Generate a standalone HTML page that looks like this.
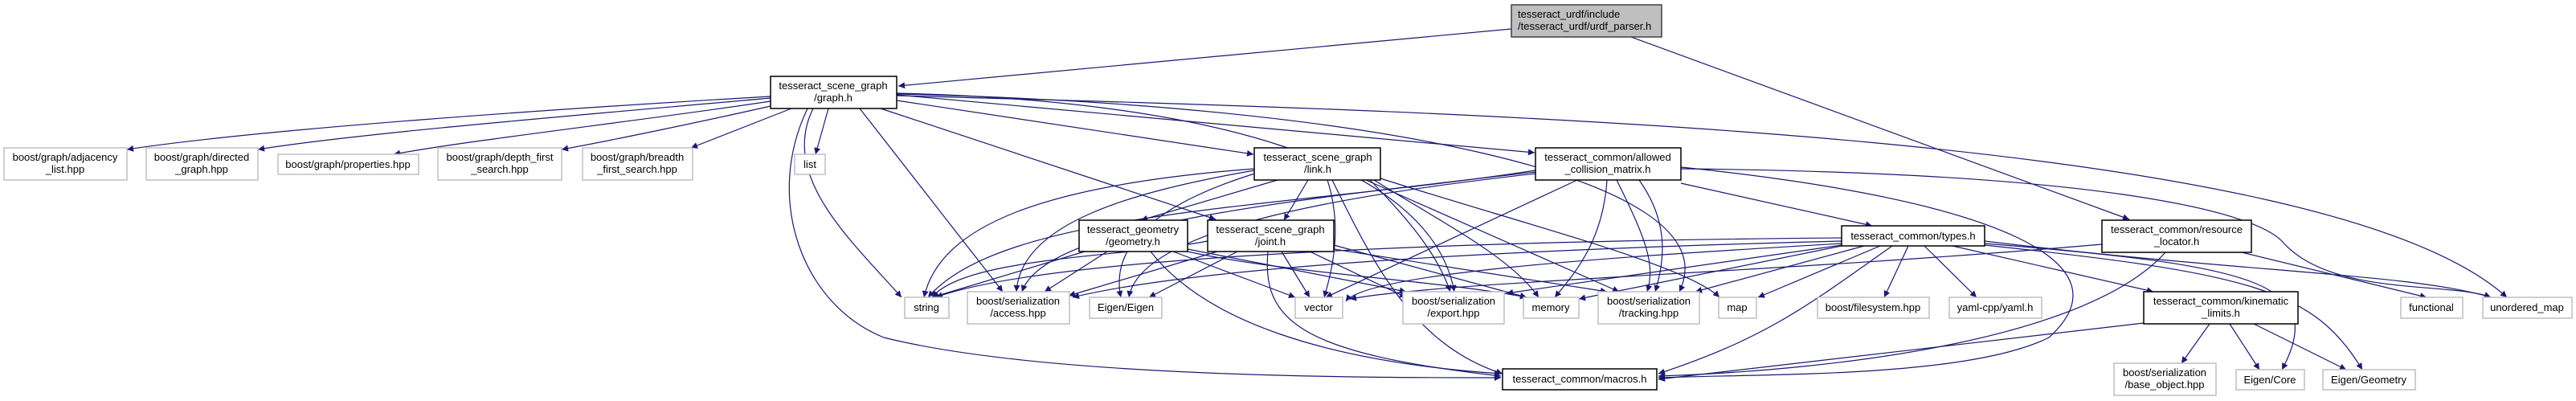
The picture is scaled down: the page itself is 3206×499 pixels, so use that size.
<!DOCTYPE html>
<html><head><meta charset="utf-8"><style>
html,body{margin:0;padding:0;background:#fff;}
svg{display:block;}
text{font-family:"Liberation Sans",Arial,sans-serif;font-size:13px;fill:#000;}
.e{fill:none;stroke:#191970;stroke-width:1.2;}
.lf{fill:#fff;stroke:#bfbfbf;stroke-width:1.5;}
.mn{fill:#fff;stroke:#000;stroke-width:1.5;}
</style></head><body>
<svg width="3206" height="499" viewBox="0 0 3206 499" xmlns="http://www.w3.org/2000/svg">
<defs><marker id="a" viewBox="0 0 10 10" refX="10" refY="5" markerWidth="10" markerHeight="8" markerUnits="userSpaceOnUse" orient="auto"><path d="M0,0 L10,5 L0,10 z" fill="#191970"/></marker></defs>
<g class="e" marker-end="url(#a)">
<path d="M1881,36 L1118,107"/>
<path d="M2030,46 L2650,273"/>
<path d="M959,120 C700,135 330,160 158,186"/>
<path d="M959,122 C760,140 450,165 321,186"/>
<path d="M959,126 C800,150 580,175 490,192"/>
<path d="M959,132 C880,150 760,175 699,186"/>
<path d="M985,135 L860,184"/>
<path d="M1031,135 L1015,192"/>
<path d="M1012,135 C970,220 1060,300 1122,370"/>
<path d="M1005,135 C950,250 1000,380 1100,420 C1300,470 1700,470 1868,470"/>
<path d="M1070,135 L1248,363"/>
<path d="M1096,135 L1513,273"/>
<path d="M1116,125 L1560,192"/>
<path d="M1116,118 L1910,190"/>
<path d="M1116,116 C1500,125 1780,200 1810,363"/>
<path d="M1116,117 C1700,130 2160,220 2090,363"/>
<path d="M1116,119 C1900,140 2900,170 3120,370"/>
<path d="M1561,210 C1300,230 1170,280 1150,370"/>
<path d="M1561,212 C1400,240 1270,280 1265,363"/>
<path d="M1565,215 C1450,250 1380,300 1395,370"/>
<path d="M1590,224 L1420,274"/>
<path d="M1628,224 L1598,274"/>
<path d="M1652,224 C1670,280 1660,330 1648,370"/>
<path d="M1658,224 C1710,330 1760,430 1870,465"/>
<path d="M1705,224 C1760,280 1790,320 1805,363"/>
<path d="M1710,224 C1800,280 1880,320 1915,370"/>
<path d="M1700,224 L2015,363"/>
<path d="M1718,222 C1900,280 2100,330 2140,370"/>
<path d="M1911,212 C1600,260 1250,260 1155,370"/>
<path d="M1911,214 C1600,250 1300,280 1272,363"/>
<path d="M1911,216 C1700,240 1420,280 1405,370"/>
<path d="M1963,224 L1650,370"/>
<path d="M2000,224 C1995,300 1960,340 1935,370"/>
<path d="M2012,224 C2050,300 2060,330 2050,363"/>
<path d="M2040,224 C2080,280 2070,330 2060,363"/>
<path d="M2092,208 C2500,250 2650,330 2550,420 C2450,470 2200,465 2064,470"/>
<path d="M2092,228 L2330,281"/>
<path d="M2092,210 C2600,215 2800,260 2840,300 C2900,370 3050,350 3100,370"/>
<path d="M1350,313 L1160,370"/>
<path d="M1378,313 L1300,363"/>
<path d="M1460,313 L1612,370"/>
<path d="M1478,310 L1750,363"/>
<path d="M1478,313 C1600,340 1800,350 1900,370"/>
<path d="M1432,313 C1500,400 1650,450 1868,465"/>
<path d="M1503,300 C1400,320 1200,320 1160,370"/>
<path d="M1515,313 L1330,368"/>
<path d="M1540,313 L1430,370"/>
<path d="M1595,313 L1630,370"/>
<path d="M1630,313 L1750,370"/>
<path d="M1660,305 L1900,370"/>
<path d="M1660,310 L2000,363"/>
<path d="M1578,313 C1570,400 1620,440 1868,468"/>
<path d="M2292,296 C1800,300 1300,320 1165,370"/>
<path d="M2292,300 C1900,310 1500,330 1335,370"/>
<path d="M2292,303 C2000,320 1700,340 1675,375"/>
<path d="M2292,305 L1875,365"/>
<path d="M2292,306 L1965,372"/>
<path d="M2320,306 L2110,363"/>
<path d="M2340,306 L2188,370"/>
<path d="M2375,306 L2345,370"/>
<path d="M2395,306 L2460,370"/>
<path d="M2430,306 L2680,363"/>
<path d="M2355,306 C2250,380 2200,420 2064,465"/>
<path d="M2470,303 C2800,330 2900,350 2840,460"/>
<path d="M2470,305 C2800,340 2880,360 2940,460"/>
<path d="M2470,300 C2800,340 3000,340 3100,370"/>
<path d="M2616,304 C2200,340 1800,350 1680,372"/>
<path d="M2790,314 L3020,370"/>
<path d="M2695,314 C2600,420 2300,460 2064,468"/>
<path d="M2668,402 L2064,472"/>
<path d="M2750,403 L2715,452"/>
<path d="M2775,403 L2812,460"/>
<path d="M2805,403 L2920,460"/>
</g>
<!-- main nodes -->
<rect x="1881" y="6" width="187" height="40" fill="#bfbfbf" stroke="#404040" stroke-width="1.5"/>
<text x="1889" y="22">tesseract_urdf/include</text><text x="1889" y="37">/tesseract_urdf/urdf_parser.h</text>
<rect class="mn" x="959" y="95" width="157" height="40"/>
<text x="1037" y="111" text-anchor="middle">tesseract_scene_graph</text><text x="1037" y="126" text-anchor="middle">/graph.h</text>
<rect class="mn" x="1561" y="184" width="157" height="40"/>
<text x="1640" y="200" text-anchor="middle">tesseract_scene_graph</text><text x="1640" y="215" text-anchor="middle">/link.h</text>
<rect class="mn" x="1911" y="184" width="181" height="40"/>
<text x="2001" y="200" text-anchor="middle">tesseract_common/allowed</text><text x="2001" y="215" text-anchor="middle">_collision_matrix.h</text>
<rect class="mn" x="1343" y="274" width="135" height="39"/>
<text x="1410" y="290" text-anchor="middle">tesseract_geometry</text><text x="1410" y="305" text-anchor="middle">/geometry.h</text>
<rect class="mn" x="1503" y="274" width="157" height="39"/>
<text x="1581" y="290" text-anchor="middle">tesseract_scene_graph</text><text x="1581" y="305" text-anchor="middle">/joint.h</text>
<rect class="mn" x="2292" y="281" width="178" height="25"/>
<text x="2381" y="298" text-anchor="middle">tesseract_common/types.h</text>
<rect class="mn" x="2616" y="274" width="186" height="40"/>
<text x="2709" y="290" text-anchor="middle">tesseract_common/resource</text><text x="2709" y="305" text-anchor="middle">_locator.h</text>
<rect class="mn" x="2668" y="363" width="192" height="40"/>
<text x="2764" y="379" text-anchor="middle">tesseract_common/kinematic</text><text x="2764" y="394" text-anchor="middle">_limits.h</text>
<rect class="mn" x="1870" y="459" width="192" height="26"/>
<text x="1966" y="476" text-anchor="middle">tesseract_common/macros.h</text>
<!-- leaves -->
<rect class="lf" x="5" y="184" width="153" height="40"/><text x="81" y="200" text-anchor="middle">boost/graph/adjacency</text><text x="81" y="215" text-anchor="middle">_list.hpp</text>
<rect class="lf" x="182" y="184" width="139" height="40"/><text x="251" y="200" text-anchor="middle">boost/graph/directed</text><text x="251" y="215" text-anchor="middle">_graph.hpp</text>
<rect class="lf" x="346" y="192" width="175" height="25"/><text x="433" y="209" text-anchor="middle">boost/graph/properties.hpp</text>
<rect class="lf" x="545" y="184" width="154" height="40"/><text x="622" y="200" text-anchor="middle">boost/graph/depth_first</text><text x="622" y="215" text-anchor="middle">_search.hpp</text>
<rect class="lf" x="725" y="184" width="137" height="40"/><text x="793" y="200" text-anchor="middle">boost/graph/breadth</text><text x="793" y="215" text-anchor="middle">_first_search.hpp</text>
<rect class="lf" x="989" y="192" width="38" height="25"/><text x="1008" y="209" text-anchor="middle">list</text>
<rect class="lf" x="1126" y="370" width="55" height="26"/><text x="1153" y="387" text-anchor="middle">string</text>
<rect class="lf" x="1204" y="363" width="127" height="40"/><text x="1267" y="379" text-anchor="middle">boost/serialization</text><text x="1267" y="394" text-anchor="middle">/access.hpp</text>
<rect class="lf" x="1356" y="370" width="90" height="26"/><text x="1401" y="387" text-anchor="middle">Eigen/Eigen</text>
<rect class="lf" x="1612" y="370" width="59" height="26"/><text x="1641" y="387" text-anchor="middle">vector</text>
<rect class="lf" x="1746" y="363" width="126" height="40"/><text x="1809" y="379" text-anchor="middle">boost/serialization</text><text x="1809" y="394" text-anchor="middle">/export.hpp</text>
<rect class="lf" x="1896" y="370" width="69" height="26"/><text x="1930" y="387" text-anchor="middle">memory</text>
<rect class="lf" x="1989" y="363" width="126" height="40"/><text x="2052" y="379" text-anchor="middle">boost/serialization</text><text x="2052" y="394" text-anchor="middle">/tracking.hpp</text>
<rect class="lf" x="2139" y="370" width="47" height="26"/><text x="2162" y="387" text-anchor="middle">map</text>
<rect class="lf" x="2262" y="370" width="139" height="26"/><text x="2331" y="387" text-anchor="middle">boost/filesystem.hpp</text>
<rect class="lf" x="2426" y="370" width="115" height="26"/><text x="2483" y="387" text-anchor="middle">yaml-cpp/yaml.h</text>
<rect class="lf" x="2988" y="370" width="77" height="26"/><text x="3026" y="387" text-anchor="middle">functional</text>
<rect class="lf" x="3090" y="370" width="111" height="26"/><text x="3145" y="387" text-anchor="middle">unordered_map</text>
<rect class="lf" x="2631" y="452" width="127" height="40"/><text x="2694" y="468" text-anchor="middle">boost/serialization</text><text x="2694" y="483" text-anchor="middle">/base_object.hpp</text>
<rect class="lf" x="2783" y="460" width="85" height="25"/><text x="2825" y="477" text-anchor="middle">Eigen/Core</text>
<rect class="lf" x="2891" y="460" width="115" height="25"/><text x="2948" y="477" text-anchor="middle">Eigen/Geometry</text>
</svg>
</body></html>
